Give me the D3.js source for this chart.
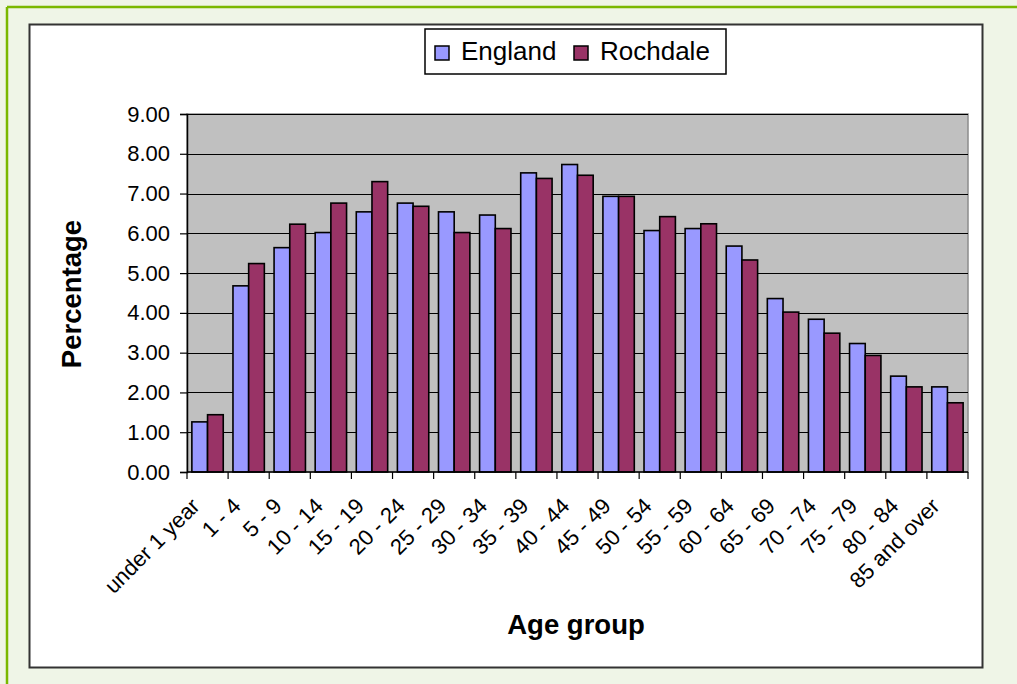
<!DOCTYPE html>
<html>
<head>
<meta charset="utf-8">
<script src="https://cdn.jsdelivr.net/npm/d3@7"></script>
<style>
  html, body { margin: 0; padding: 0; background: #eff5e7; }
  svg { display: block; font-family: "Liberation Sans", Arial, sans-serif; }
</style>
</head>
<body>
<svg id="chart" width="1017" height="684"></svg>
<script>
// Age groups and share of population (%) for each area
const ageGroups = ["under 1 year", "1 - 4", "5 - 9", "10 - 14", "15 - 19", "20 - 24", "25 - 29",
  "30 - 34", "35 - 39", "40 - 44", "45 - 49", "50 - 54", "55 - 59", "60 - 64", "65 - 69",
  "70 - 74", "75 - 79", "80 - 84", "85 and over"];
const england = [1.26, 4.68, 5.64, 6.02, 6.54, 6.76, 6.54, 6.46, 7.52, 7.73, 6.93,
  6.07, 6.12, 5.68, 4.36, 3.84, 3.23, 2.41, 2.14];
const rochdale = [1.44, 5.24, 6.23, 6.76, 7.30, 6.68, 6.02, 6.12, 7.38, 7.46, 6.93,
  6.42, 6.24, 5.33, 4.02, 3.49, 2.93, 2.14, 1.74];
const seriesNames = ["England", "Rochdale"];
const seriesColors = ["#9999ff", "#993366"];
const yTicks = [0, 1, 2, 3, 4, 5, 6, 7, 8, 9];

const svg = d3.select("#chart");

// page frame: green rule on the top/left, white chart box inside
svg.append("line").attr("x1", 7).attr("x2", 1017).attr("y1", 7).attr("y2", 7)
  .attr("stroke", "#7ab800").attr("stroke-width", 2.5);
svg.append("line").attr("x1", 7).attr("x2", 7).attr("y1", 7).attr("y2", 684)
  .attr("stroke", "#7ab800").attr("stroke-width", 2.5);
svg.append("rect").attr("x", 29.5).attr("y", 24.5).attr("width", 953).attr("height", 643)
  .attr("fill", "#ffffff").attr("stroke", "#333333").attr("stroke-width", 2);

const plot = { left: 187, top: 114, right: 968, bottom: 472 };

const x = d3.scaleBand().domain(ageGroups).range([plot.left, plot.right]).paddingInner(0).paddingOuter(0);
const x1 = d3.scaleBand().domain(seriesNames).range([0, x.bandwidth()]).paddingInner(0).paddingOuter(0.31);
const y = d3.scaleLinear().domain([0, 9]).range([plot.bottom, plot.top]);

// plot background
svg.append("rect").attr("x", plot.left).attr("y", plot.top)
  .attr("width", plot.right - plot.left).attr("height", plot.bottom - plot.top)
  .attr("fill", "#c0c0c0").attr("stroke", "#8c8c8c").attr("stroke-width", 1.5);

// horizontal gridlines
svg.append("g").selectAll("line").data(yTicks.slice(1)).join("line")
  .attr("x1", plot.left).attr("x2", plot.right)
  .attr("y1", d => Math.round(y(d)) + 0.5).attr("y2", d => Math.round(y(d)) + 0.5)
  .attr("stroke", "#000").attr("stroke-width", 1.2);

// bars
const groups = svg.append("g").selectAll("g").data(ageGroups).join("g")
  .attr("transform", d => `translate(${x(d)},0)`);
groups.selectAll("rect")
  .data((d, i) => [{ s: "England", v: england[i] }, { s: "Rochdale", v: rochdale[i] }])
  .join("rect")
  .attr("x", d => x1(d.s))
  .attr("y", d => y(d.v))
  .attr("width", x1.bandwidth())
  .attr("height", d => y(0) - y(d.v))
  .attr("fill", d => seriesColors[seriesNames.indexOf(d.s)])
  .attr("stroke", "#000").attr("stroke-width", 1.6);

// y axis
const yAxis = svg.append("g").attr("transform", `translate(${plot.left},0)`)
  .call(d3.axisLeft(y).tickValues(yTicks).tickFormat(d3.format(".2f")).tickSize(7).tickPadding(10));
yAxis.select(".domain").attr("stroke", "#000").attr("stroke-width", 1.5);
yAxis.selectAll(".tick line").attr("stroke", "#000").attr("stroke-width", 1.2);
yAxis.selectAll("text").attr("font-size", 22).attr("fill", "#000")
  .attr("font-family", "'Liberation Sans', Arial, sans-serif");

// x axis: ticks at category boundaries
const xAxisG = svg.append("g").attr("transform", `translate(0,${plot.bottom})`);
xAxisG.append("line").attr("x1", plot.left).attr("x2", plot.right).attr("y1", 0).attr("y2", 0)
  .attr("stroke", "#000").attr("stroke-width", 1.5);
const bounds = ageGroups.map(d => x(d)).concat([plot.right]);
xAxisG.selectAll("line.tk").data(bounds).join("line").attr("class", "tk")
  .attr("x1", d => d).attr("x2", d => d).attr("y1", 0).attr("y2", 7)
  .attr("stroke", "#000").attr("stroke-width", 1.2);
xAxisG.selectAll("text").data(ageGroups).join("text")
  .attr("transform", d => `translate(${x(d) + x.bandwidth() / 2 - 12},${30}) rotate(-45)`)
  .attr("text-anchor", "end")
  .attr("dy", "0.35em")
  .attr("font-size", 22)
  .attr("fill", "#000")
  .text(d => d);

// axis titles
svg.append("text").attr("transform", "translate(81,294) rotate(-90)")
  .attr("text-anchor", "middle").attr("font-size", 27.5).attr("font-weight", "bold")
  .text("Percentage");
svg.append("text").attr("x", 576).attr("y", 634)
  .attr("text-anchor", "middle").attr("font-size", 27.5).attr("font-weight", "bold")
  .text("Age group");

// legend
const legend = svg.append("g");
legend.append("rect").attr("x", 425).attr("y", 29).attr("width", 301).attr("height", 45)
  .attr("fill", "#fff").attr("stroke", "#000").attr("stroke-width", 1.5);
const legendX = [435, 574];
seriesNames.forEach((name, i) => {
  legend.append("rect").attr("x", legendX[i]).attr("y", 46).attr("width", 14).attr("height", 14)
    .attr("fill", seriesColors[i]).attr("stroke", "#000").attr("stroke-width", 1.5);
  legend.append("text").attr("x", legendX[i] + 26).attr("y", 60)
    .attr("font-size", 26).attr("fill", "#000").text(name);
});
</script>
</body>
</html>
